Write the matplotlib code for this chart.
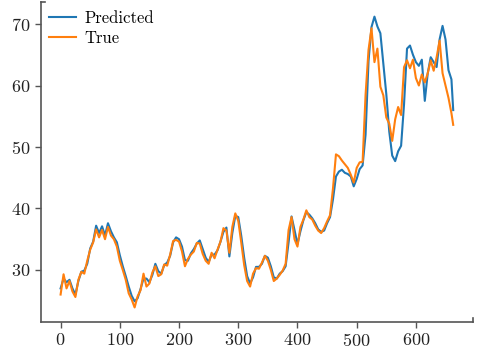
import numpy as np
import matplotlib
matplotlib.use("Agg")
from matplotlib import pyplot as plt

plt.rcParams['font.family'] = ['cmr10', 'DejaVu Serif']
plt.rcParams['axes.formatter.use_mathtext'] = True

# sample index (every 5 steps) and the two series
steps = list(range(0, 661, 5)) + [663]

true_vals = [26.0, 29.3, 27.0, 28.2, 26.5, 25.6, 28.4, 29.7, 29.4, 31.5,
             33.3, 34.5, 36.6, 35.3, 36.5, 35.0, 37.0, 35.6, 35.0, 33.8,
             31.5, 30.0, 28.4, 26.2, 25.2, 23.9, 25.7, 26.7, 29.4, 27.3,
             27.8, 29.6, 30.6, 29.0, 29.3, 30.9, 30.7, 32.5, 34.7, 34.9,
             34.6, 33.0, 30.6, 31.8, 32.5, 33.0, 34.4, 34.3, 32.6, 31.5,
             31.0, 32.8, 31.9, 33.3, 34.6, 36.8, 36.4, 32.8, 37.0, 39.2,
             38.0, 34.5, 30.8, 28.2, 27.3, 29.4, 30.3, 30.2, 31.2, 32.3,
             31.5, 30.0, 28.2, 28.6, 29.2, 29.9, 31.0, 36.5, 38.6, 35.0,
             33.8, 37.0, 38.2, 39.7, 38.6, 38.2, 37.2, 36.4, 36.0, 36.8,
             37.9, 38.9, 43.3, 48.8, 48.5, 47.8, 47.2, 46.6, 45.5, 44.2,
             46.6, 47.5, 47.6, 58.5, 65.8, 69.3, 63.8, 66.0, 59.8, 58.4,
             54.8, 53.8, 51.0, 54.5, 56.5, 55.2, 63.0, 64.1, 62.8, 64.2,
             61.2, 60.0, 61.8, 60.5, 62.0, 64.1, 62.4, 64.6, 67.3, 62.0,
             60.0, 58.0, 55.5, 53.6]

predicted = [27.0, 28.6, 28.0, 28.4, 27.0, 26.0, 28.2, 29.7, 29.9, 31.0,
             33.5, 34.6, 37.2, 36.0, 37.1, 35.6, 37.6, 36.3, 35.3, 34.5,
             32.4, 30.6, 29.0, 27.3, 25.8, 24.9, 25.4, 26.9, 28.6, 28.6,
             28.0, 29.2, 31.0, 29.8, 29.4, 30.8, 31.2, 32.3, 34.5, 35.3,
             35.0, 33.8, 31.6, 31.5, 32.7, 33.4, 34.3, 34.8, 33.4, 32.0,
             31.3, 32.5, 32.5, 33.2, 34.6, 36.2, 36.9, 32.2, 36.0, 38.8,
             38.6, 35.6, 32.0, 29.0, 27.8, 28.8, 30.5, 30.5, 31.0, 32.3,
             32.0, 30.6, 28.8, 28.6, 29.4, 29.8, 30.6, 34.5, 38.7, 36.5,
             34.2, 36.3, 38.1, 39.4, 39.0, 38.4, 37.6, 36.6, 36.2, 36.4,
             37.6, 38.6, 41.5, 45.2, 46.0, 46.3, 45.8, 45.6, 45.2, 43.6,
             44.8, 46.4, 47.0, 52.0, 64.0, 69.5, 71.2, 69.6, 68.5, 63.5,
             58.6, 52.5, 48.6, 47.7, 49.3, 50.2, 57.0, 66.0, 66.5, 65.0,
             63.8, 63.2, 64.2, 57.5, 62.0, 64.6, 63.8, 63.0, 67.5, 69.7,
             67.5, 62.5, 61.0, 56.0]

fig = plt.figure(figsize=(4.82, 3.5), dpi=100)
fig.subplots_adjust(left=0.085, right=0.981, bottom=0.08, top=0.994)
ax = fig.add_subplot(111)

ax.plot(steps, predicted, color='tab:blue', lw=1.5, label='Predicted')
ax.plot(steps, true_vals, color='tab:orange', lw=1.5, label='True')

ax.set_xticks([0, 100, 200, 300, 400, 500, 600])
ax.set_yticks([30, 40, 50, 60, 70])
ax.tick_params(labelsize=13, colors='#555555', labelcolor='#222222',
               length=4, width=1)

x0, x1 = ax.get_xlim()
y0, y1 = ax.get_ylim()
for s in ax.spines.values():
    s.set_color('#555555')
    s.set_linewidth(1.2)
# little end caps like the original
ax.spines['top'].set_bounds(x0, x0 + 7)
ax.spines['right'].set_bounds(y0, y0 + 0.7)
ax.set_xlim(x0, x1)
ax.set_ylim(y0, y1)

ax.legend(loc='upper left', frameon=False, fontsize=12, handlelength=1.6,
          handletextpad=0.5, labelspacing=0.3, borderaxespad=0.1)

fig.savefig('out.png', dpi=100)
